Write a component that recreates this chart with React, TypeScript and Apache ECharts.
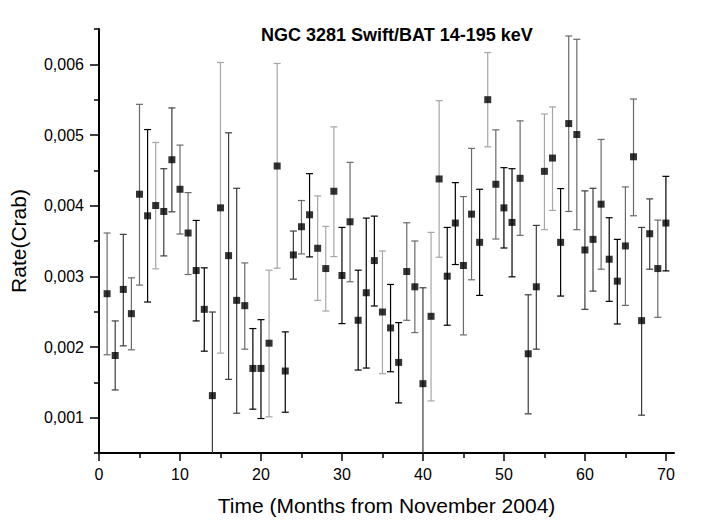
import React, { useEffect, useRef } from "react";
import * as echarts from "echarts";

// Months from November 2004
const months = [
  1, 2, 3, 4, 5, 6, 7, 8, 9, 10,
  11, 12, 13, 14, 15, 16, 17, 18, 19, 20,
  21, 22, 23, 24, 25, 26, 27, 28, 29, 30,
  31, 32, 33, 34, 35, 36, 37, 38, 39, 40,
  41, 42, 43, 44, 45, 46, 47, 48, 49, 50,
  51, 52, 53, 54, 55, 56, 57, 58, 59, 60,
  61, 62, 63, 64, 65, 66, 67, 68, 69, 70,
];

// Rate (Crab), in units of 0.001
const rate = [
  2.754, 1.880, 2.815, 2.472, 4.162, 3.857, 4.002, 3.918, 4.650, 4.232,
  3.613, 3.082, 2.533, 1.312, 3.969, 3.293, 2.660, 2.585, 1.697, 1.697,
  2.054, 4.561, 1.660, 3.303, 3.702, 3.871, 3.397, 3.110, 4.204, 3.012,
  3.772, 2.378, 2.768, 3.223, 2.495, 2.270, 1.782, 3.068, 2.852, 1.481,
  2.434, 4.378, 3.002, 3.754, 3.153, 3.880, 3.481, 5.500, 4.303, 3.969,
  3.763, 4.387, 1.904, 2.852, 4.486, 4.674, 3.481, 5.162, 5.007, 3.373,
  3.523, 4.021, 3.242, 2.932, 3.430, 4.692, 2.373, 3.603, 3.110, 3.754,
];

// Upper end of the error bar (units of 0.001)
const rateHigh = [
  3.613, 2.369, 3.594, 2.979, 5.434, 5.077, 4.894, 4.523, 5.383, 4.857,
  4.185, 3.791, 3.120, 2.495, 6.026, 5.031, 4.246, 3.190, 2.261, 2.387,
  3.087, 6.012, 2.214, 3.641, 4.073, 4.453, 4.138, 3.707, 5.115, 3.692,
  4.613, 3.087, 3.824, 3.852, 3.359, 2.885, 2.345, 3.758, 3.500, 2.838,
  3.622, 5.486, 3.692, 4.326, 4.129, 4.810, 4.232, 6.167, 5.073, 4.538,
  4.523, 5.200, 2.739, 3.721, 5.298, 5.397, 4.242, 6.401, 6.354, 4.209,
  4.246, 4.937, 3.829, 3.523, 4.265, 5.509, 3.692, 4.096, 3.796, 4.415,
];

// Lower end of the error bar (units of 0.001)
const rateLow = [
  1.890, 1.392, 2.016, 1.960, 2.876, 2.636, 3.106, 3.289, 3.913, 3.599,
  3.026, 2.369, 1.941, 0.130, 1.913, 1.542, 1.063, 1.969, 1.120, 0.988,
  1.012, 3.115, 1.077, 2.960, 3.317, 3.275, 2.660, 2.509, 3.279, 2.331,
  2.923, 1.674, 1.702, 2.580, 1.622, 1.650, 1.209, 2.378, 2.204, 0.124,
  1.237, 3.270, 2.308, 3.167, 2.171, 2.951, 2.730, 4.833, 3.528, 3.401,
  2.993, 3.580, 1.054, 1.969, 3.660, 3.932, 2.721, 3.918, 3.660, 2.533,
  2.791, 3.101, 2.646, 2.326, 2.589, 3.857, 1.035, 3.101, 2.420, 3.077,
];

// Error-bar shade per point: k = black, d = dark grey, g = grey, l = light grey
const barShade = [
  "g", "d", "d", "g", "g", "k", "l", "d", "d", "g",
  "g", "k", "k", "d", "l", "d", "d", "g", "k", "k",
  "l", "l", "k", "d", "g", "k", "l", "l", "l", "k",
  "g", "k", "k", "k", "l", "k", "k", "g", "g", "d",
  "l", "l", "k", "k", "g", "g", "k", "l", "g", "k",
  "k", "g", "d", "d", "l", "l", "k", "g", "g", "d",
  "d", "g", "k", "k", "g", "g", "d", "d", "g", "k",
];

const yLabelTicks = [0.001, 0.002, 0.003, 0.004, 0.005, 0.006];
const yMinorTicks = [0.0005, 0.0015, 0.0025, 0.0035, 0.0045, 0.0055, 0.0065];
const xLabelTicks = [0, 10, 20, 30, 40, 50, 60, 70];
const xMinorTicks = [5, 15, 25, 35, 45, 55, 65];

const shadeColor: Record<string, string> = {
  k: "#000000",
  d: "#3c3c3c",
  g: "#6a6a6a",
  l: "#a6a6a6",
};

const FONT = "'Liberation Sans', Arial, sans-serif";

export default function App() {
  const ref = useRef<HTMLDivElement>(null);

  useEffect(() => {
    if (!ref.current) return;
    const chart = echarts.init(ref.current, null, { renderer: "svg" });

    const pointData = months.map((m, i) => [m, rate[i] / 1000]);
    const barData = months.map((m, i) => [m, rateLow[i] / 1000, rateHigh[i] / 1000]);

    const axisLineStyle = { color: "#000", width: 2 };
    const tickStyle = { color: "#000", width: 1.5 };

    chart.setOption({
      animation: false,
      backgroundColor: "#ffffff",
      textStyle: { fontFamily: FONT },
      title: {
        text: "NGC 3281 Swift/BAT 14-195 keV",
        left: 256,
        top: 21,
        textStyle: { fontFamily: FONT, fontSize: 18, fontWeight: "bold", color: "#000" },
      },
      grid: { left: 96, right: 32, top: 29, bottom: 66, containLabel: false },
      xAxis: [
        {
          type: "value",
          min: 0,
          max: 71,
          interval: 10,
          name: "Time (Months from November 2004)",
          nameLocation: "middle",
          nameGap: 42,
          nameTextStyle: { fontFamily: FONT, fontSize: 21, color: "#000" },
          axisLine: { show: true, lineStyle: axisLineStyle },
          axisTick: { show: true, customValues: xLabelTicks, length: 8, lineStyle: tickStyle },
          axisLabel: { customValues: xLabelTicks, margin: 13, fontFamily: FONT, fontSize: 16, color: "#000" },
          splitLine: { show: false },
        },
        {
          type: "value",
          min: 0,
          max: 71,
          position: "bottom",
          axisLine: { show: false },
          axisTick: { show: true, customValues: xMinorTicks, length: 5, lineStyle: tickStyle },
          axisLabel: { show: false },
          splitLine: { show: false },
        },
      ],
      yAxis: [
        {
          type: "value",
          min: 0.0005,
          max: 0.0065,
          interval: 0.0005,
          name: "Rate(Crab)",
          nameLocation: "middle",
          nameGap: 70,
          nameRotate: 90,
          nameTextStyle: { fontFamily: FONT, fontSize: 21, color: "#000" },
          axisLine: { show: true, lineStyle: axisLineStyle },
          axisTick: { show: true, customValues: yLabelTicks, length: 9, lineStyle: tickStyle },
          axisLabel: {
            customValues: yLabelTicks,
            margin: 15,
            fontFamily: FONT,
            fontSize: 16,
            color: "#000",
            formatter: (v: number) => v.toFixed(3).replace(".", ","),
          },
          splitLine: { show: false },
        },
        {
          type: "value",
          min: 0.0005,
          max: 0.0065,
          position: "left",
          axisLine: { show: false },
          axisTick: { show: true, customValues: yMinorTicks, length: 5, lineStyle: tickStyle },
          axisLabel: { show: false },
          splitLine: { show: false },
        },
      ],
      series: [
        {
          type: "custom",
          clip: true,
          xAxisIndex: 0,
          yAxisIndex: 0,
          data: barData,
          encode: { x: 0, y: [1, 2] },
          renderItem: (params: any, api: any) => {
            const x = api.value(0);
            const lo = api.coord([x, api.value(1)]);
            const hi = api.coord([x, api.value(2)]);
            const half = 3.5;
            const color = shadeColor[barShade[params.dataIndex]];
            const style = { stroke: color, lineWidth: 1.2 };
            return {
              type: "group",
              children: [
                { type: "line", shape: { x1: hi[0], y1: hi[1], x2: lo[0], y2: lo[1] }, style },
                { type: "line", shape: { x1: hi[0] - half, y1: hi[1], x2: hi[0] + half, y2: hi[1] }, style },
                { type: "line", shape: { x1: lo[0] - half, y1: lo[1], x2: lo[0] + half, y2: lo[1] }, style },
              ],
            };
          },
          z: 2,
        },
        {
          type: "scatter",
          xAxisIndex: 0,
          yAxisIndex: 0,
          data: pointData,
          symbol: "rect",
          symbolSize: 7,
          itemStyle: { color: "#000" },
          z: 3,
        },
      ],
    });

    return () => chart.dispose();
  }, []);

  return (
    <div
      ref={ref}
      style={{ position: "fixed", left: 0, top: 0, width: 706, height: 521, background: "#fff" }}
    />
  );
}
